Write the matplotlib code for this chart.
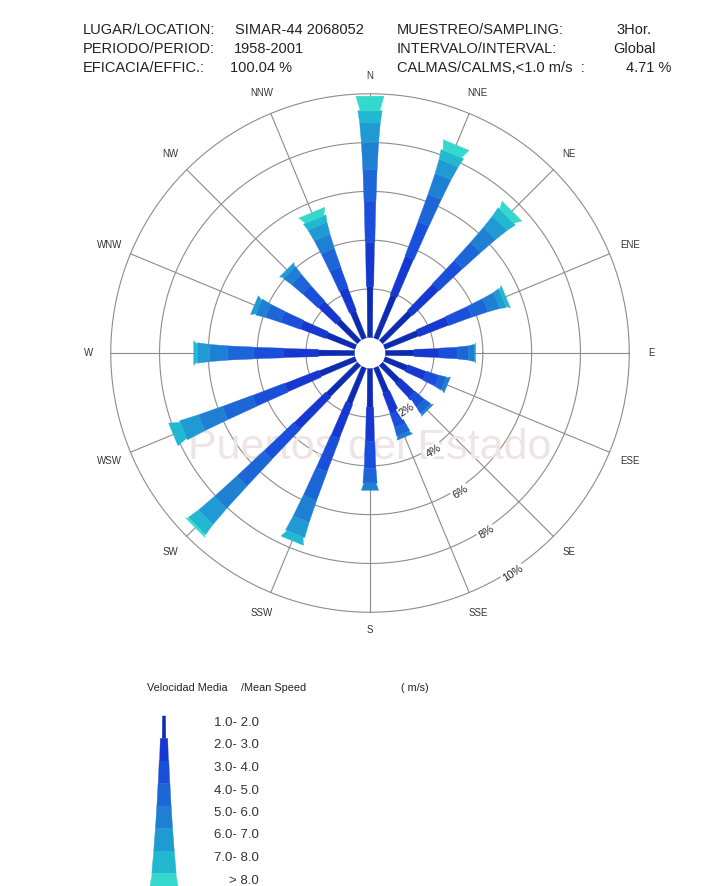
import numpy as np
import matplotlib.pyplot as plt
from matplotlib.patches import Circle

plt.rcParams['font.family'] = ['Liberation Sans', 'DejaVu Sans']

W, H = 720, 886
K = 24.4          # pixels per 1 % of frequency
R0 = 0.625        # radius of the calm circle, in % units

directions = ['N', 'NNE', 'NE', 'ENE', 'E', 'ESE', 'SE', 'SSE',
              'S', 'SSW', 'SW', 'WSW', 'W', 'WNW', 'NW', 'NNW']
speed_labels = ['1.0- 2.0', '2.0- 3.0', '3.0- 4.0', '4.0- 5.0',
                '5.0- 6.0', '6.0- 7.0', '7.0- 8.0', '> 8.0']
speed_colors = ['#0d2bb0', '#1638d0', '#1a4fdc', '#1c66d8',
                '#1f80d3', '#1f9ad2', '#22b8d2', '#35d8cc']
speed_widths = [0.24, 0.36, 0.47, 0.58, 0.7, 0.84, 1.0, 1.15]   # % units

# frequency (%) per direction and speed class
freq = {
    'N':   [2.1, 1.8, 1.7, 1.3, 1.1, 0.8, 0.5, 0.6],
    'NNE': [1.9, 1.7, 1.5, 1.2, 0.9, 0.6, 0.4, 0.4],
    'NE':  [1.7, 1.5, 1.3, 1.0, 0.8, 0.6, 0.4, 0.3],
    'ENE': [1.5, 1.3, 1.0, 0.7, 0.5, 0.25, 0.15, 0.0],
    'E':   [1.2, 1.0, 0.75, 0.45, 0.25, 0.05, 0.0, 0.0],
    'ESE': [1.0, 0.8, 0.55, 0.3, 0.15, 0.0, 0.0, 0.0],
    'SE':  [1.0, 0.8, 0.5, 0.3, 0.1, 0.0, 0.0, 0.0],
    'SSE': [1.1, 0.9, 0.6, 0.35, 0.15, 0.0, 0.0, 0.0],
    'S':   [1.6, 1.4, 1.1, 0.6, 0.3, 0.0, 0.0, 0.0],
    'SSW': [1.6, 1.5, 1.45, 1.25, 0.95, 0.65, 0.3, 0.0],
    'SW':  [1.8, 1.8, 1.7, 1.5, 1.25, 0.85, 0.5, 0.1],
    'WSW': [1.6, 1.5, 1.4, 1.3, 1.05, 0.8, 0.45, 0.0],
    'W':   [1.5, 1.4, 1.25, 1.05, 0.75, 0.5, 0.15, 0.0],
    'WNW': [1.3, 1.1, 0.85, 0.65, 0.4, 0.2, 0.0, 0.0],
    'NW':  [1.2, 1.0, 0.85, 0.6, 0.4, 0.15, 0.0, 0.0],
    'NNW': [1.2, 1.0, 0.9, 0.8, 0.6, 0.5, 0.3, 0.3],
}
rings = [2, 4, 6, 8, 10]

header = [
    [('LUGAR/LOCATION:', 83), ('SIMAR-44 2068052', 235),
     ('MUESTREO/SAMPLING:', 397), ('3Hor.', 616)],
    [('PERIODO/PERIOD:', 83), ('1958-2001', 234),
     ('INTERVALO/INTERVAL:', 397), ('Global', 613)],
    [('EFICACIA/EFFIC.:', 83), ('100.04 %', 230),
     ('CALMAS/CALMS,<1.0 m/s  :', 397), ('4.71 %', 626)],
]


def px(x, y):
    return x / W, 1 - y / H


def segment(ax, theta, r0, r1, w, color, flare=0.84):
    # tapered bar piece along bearing theta (clockwise from north)
    d = np.array([np.sin(theta), np.cos(theta)])
    p = np.array([np.cos(theta), -np.sin(theta)])
    a, b = 0.5 * w * flare, 0.5 * w
    pts = [d * r0 + p * a, d * r1 + p * b, d * r1 - p * b, d * r0 - p * a]
    xs, ys = zip(*pts)
    ax.fill(xs, ys, color=color, lw=0.3, ec=color, zorder=3)


fig = plt.figure(figsize=(W / 100, H / 100), dpi=100)

cx, cy, half = 370, 353, 300
ax = fig.add_axes([(cx - half) / W, (H - cy - half) / H, 2 * half / W, 2 * half / H])
lim = half / K
ax.set_xlim(-lim, lim)
ax.set_ylim(-lim, lim)
ax.axis('off')

grid = '#8c8c8c'
tt = np.linspace(0, 2 * np.pi, 400)
for rv in rings:
    ax.plot((R0 + rv) * np.cos(tt), (R0 + rv) * np.sin(tt), color=grid, lw=0.8, zorder=1)
rmax = R0 + rings[-1]
for i, name in enumerate(directions):
    th = np.deg2rad(22.5 * i)
    ax.plot([R0 * np.sin(th), rmax * np.sin(th)], [R0 * np.cos(th), rmax * np.cos(th)],
            color=grid, lw=0.8, zorder=1)
    rl = 11.35 if name in ('N', 'S') else 11.55
    ax.text(rl * np.sin(th), rl * np.cos(th), name, fontsize=7,
            ha='center', va='center', color='#333333')

ax.text(0, -3.9, 'Puertos del Estado', fontsize=31, color='#efe4e4',
        ha='center', va='center', zorder=2)

# ring labels
lab_th = np.deg2rad(147)
for rv in rings:
    rr = R0 + rv + 0.15
    ax.text(rr * np.sin(lab_th), rr * np.cos(lab_th), f'{rv}%', fontsize=8,
            rotation=33, ha='center', va='center', color='#222222', zorder=4,
            bbox=dict(boxstyle='square,pad=0.1', fc='white', ec='none'))

for i, name in enumerate(directions):
    th = np.deg2rad(22.5 * i)
    cum = np.concatenate([[0], np.cumsum(freq[name])])
    last = max(j for j, v in enumerate(freq[name]) if v > 0)
    for j in range(len(speed_labels)):
        if freq[name][j] <= 0:
            continue
        segment(ax, th, R0 + cum[j], R0 + cum[j + 1], speed_widths[j], speed_colors[j],
                flare=0.7 if j == last else 0.84)

ax.add_patch(Circle((0, 0), R0, fc='white', ec='none', zorder=5))

# header block
for k, row in enumerate(header):
    for txt, x in row:
        fig.text(*px(x, 30 + 19 * k), txt, fontsize=10.5, va='center', color='#222222')

# legend
fig.text(*px(147, 688), 'Velocidad Media', fontsize=7.8, va='center', color='#222222')
fig.text(*px(241, 688), '/Mean Speed', fontsize=7.8, va='center', color='#222222')
fig.text(*px(401, 688), '( m/s)', fontsize=7.8, va='center', color='#222222')

lax = fig.add_axes([0, 0, 1, 1])
lax.set_xlim(0, W)
lax.set_ylim(H, 0)
lax.axis('off')
bx, by, step = 164, 716, 22.5
for j, lab in enumerate(speed_labels):
    y0 = by + step * j
    y1 = y0 + step if j < len(speed_labels) - 1 else H
    wb = speed_widths[j] * K
    if j == 0:
        wb *= 0.6
    lax.fill([bx - 0.42 * wb, bx + 0.42 * wb, bx + 0.5 * wb, bx - 0.5 * wb],
             [y0, y0, y1, y1], color=speed_colors[j], lw=0.3, ec=speed_colors[j])
    lax.text(259, 723 + step * j, lab, fontsize=9.5, ha='right', va='center', color='#333333')

fig.savefig('out.png', dpi=100, facecolor='white')
